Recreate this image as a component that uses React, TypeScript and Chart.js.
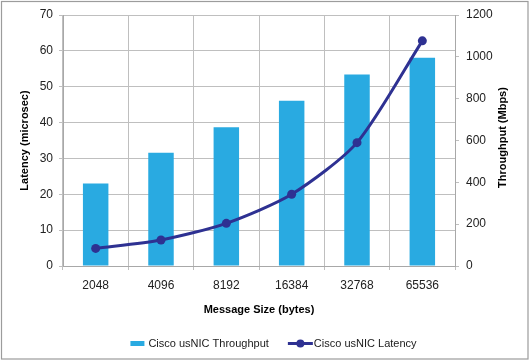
import { useEffect, useRef } from 'react';
import { Chart, registerables } from 'chart.js';

Chart.register(...registerables);

const categories = ['2048', '4096', '8192', '16384', '32768', '65536'];
const throughputMbps = [395, 542, 663, 790, 915, 996];
const latencyMicrosec = [4.9, 7.25, 11.9, 20.0, 34.4, 62.8];
const throughputLabel = 'Cisco usNIC Throughput';
const latencyLabel = 'Cisco usNIC Latency';
const xTitle = 'Message Size (bytes)';
const yLeftTitle = 'Latency (microsec)';
const yRightTitle = 'Throughput (Mbps)';

const W = 530;
const H = 361;
const BAR = '#29AAE1';
const LINE = '#2E3192';
const GRID = '#BFBFBF';
const AXIS = '#A8A8A8';
const FONT = "'Liberation Sans', Arial, Helvetica, sans-serif";

const framePlugin = {
  id: 'frame',
  beforeDraw(chart: any) {
    const ctx = chart.ctx;
    ctx.save();
    ctx.fillStyle = '#ffffff';
    ctx.fillRect(0, 0, chart.width, chart.height);
    ctx.strokeStyle = '#9C9C9C';
    ctx.lineWidth = 1.2;
    ctx.strokeRect(1.5, 1.5, chart.width - 3.5, chart.height - 3.5);
    ctx.restore();
  },
  afterDraw(chart: any) {
    const ctx = chart.ctx;
    const area = chart.chartArea;
    ctx.save();
    // right axis title, reading bottom-to-top
    ctx.font = `bold 11px ${FONT}`;
    ctx.fillStyle = '#000';
    ctx.textAlign = 'center';
    ctx.textBaseline = 'middle';
    ctx.translate(503, (area.top + area.bottom) / 2 - 3);
    ctx.rotate(-Math.PI / 2);
    ctx.fillText(yRightTitle, 0, 0);
    ctx.restore();

    // legend
    ctx.save();
    const ds = chart.data.datasets;
    ctx.font = `11px ${FONT}`;
    ctx.textBaseline = 'middle';
    ctx.textAlign = 'left';
    const w1 = ctx.measureText(ds[0].label).width;
    const w2 = ctx.measureText(ds[1].label).width;
    const total = 14 + 4 + w1 + 19 + 25 + 1 + w2;
    let x = 273.5 - total / 2;
    const y = 343.5;
    ctx.fillStyle = ds[0].backgroundColor;
    ctx.fillRect(x, y - 2.5, 14, 5);
    x += 18;
    ctx.fillStyle = '#1a1a1a';
    ctx.fillText(ds[0].label, x, y);
    x += w1 + 19;
    ctx.strokeStyle = ds[1].borderColor;
    ctx.lineWidth = 3;
    ctx.beginPath();
    ctx.moveTo(x, y);
    ctx.lineTo(x + 25, y);
    ctx.stroke();
    ctx.fillStyle = ds[1].borderColor;
    ctx.beginPath();
    ctx.arc(x + 12.5, y, 4, 0, Math.PI * 2);
    ctx.fill();
    x += 26;
    ctx.fillStyle = '#1a1a1a';
    ctx.fillText(ds[1].label, x, y);
    ctx.restore();
  },
};

const plain = (v: any) => String(v);

export default function App() {
  const ref = useRef<HTMLCanvasElement | null>(null);

  useEffect(() => {
    const canvas = ref.current;
    if (!canvas) return;
    const chart = new Chart(canvas, {
      type: 'bar',
      data: {
        labels: categories,
        datasets: [
          {
            type: 'bar',
            label: throughputLabel,
            data: throughputMbps,
            backgroundColor: BAR,
            borderWidth: 0,
            yAxisID: 'yR',
            categoryPercentage: 1,
            barPercentage: 0.39,
            order: 1,
          } as any,
          {
            type: 'line',
            label: latencyLabel,
            data: latencyMicrosec,
            borderColor: LINE,
            backgroundColor: LINE,
            borderWidth: 3,
            pointRadius: 4.5,
            pointBackgroundColor: LINE,
            pointBorderWidth: 0,
            tension: 0.25,
            yAxisID: 'y',
            order: 0,
          } as any,
        ],
      },
      options: {
        responsive: false,
        animation: false,
        devicePixelRatio: 1,
        layout: { padding: { top: 15, left: 0, right: 0, bottom: 0 } },
        plugins: {
          legend: { display: false },
          tooltip: { enabled: false },
        },
        scales: {
          x: {
            offset: true,
            grid: { offset: true, color: GRID, tickLength: 4, drawTicks: true },
            border: { color: AXIS },
            ticks: { color: '#222', font: { family: FONT, size: 12 }, padding: 8 },
            title: {
              display: true,
              text: xTitle,
              color: '#000',
              font: { family: FONT, size: 11, weight: 'bold' },
              padding: { top: 0, bottom: 44 },
            },
            afterFit(scale: any) {
              scale.height = 95;
            },
          },
          y: {
            position: 'left',
            min: 0,
            max: 70,
            ticks: { stepSize: 10, color: '#222', font: { family: FONT, size: 12 }, padding: 6, callback: plain },
            grid: { color: GRID, tickLength: 4 },
            border: { color: AXIS },
            title: {
              display: true,
              text: yLeftTitle,
              color: '#000',
              font: { family: FONT, size: 11, weight: 'bold' },
              padding: { top: 18, bottom: 0 },
            },
            afterFit(scale: any) {
              scale.width = 63;
            },
          },
          yR: {
            position: 'right',
            min: 0,
            max: 1200,
            ticks: { stepSize: 200, color: '#222', font: { family: FONT, size: 12 }, padding: 7, callback: plain },
            grid: { drawOnChartArea: false, color: GRID, tickLength: 4 },
            border: { color: AXIS },
            afterFit(scale: any) {
              scale.width = 75;
            },
          },
        },
      } as any,
      plugins: [framePlugin],
    });
    return () => chart.destroy();
  }, []);

  return (
    <div style={{ position: 'fixed', left: 0, top: 0, width: W, height: H, background: '#fff' }}>
      <canvas ref={ref} width={W} height={H} style={{ display: 'block', width: W, height: H }} />
    </div>
  );
}
